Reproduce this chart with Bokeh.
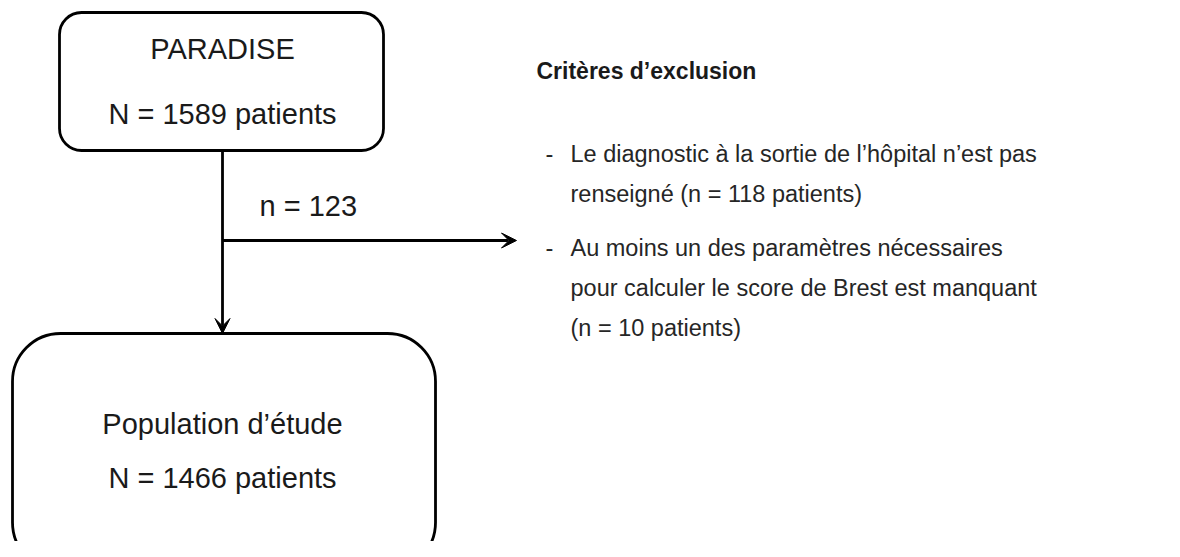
from bokeh.plotting import figure
from bokeh.models import Range1d, Arrow, VeeHead, ColumnDataSource
from bokeh.core.properties import value
from bokeh.embed import file_html
from bokeh.resources import INLINE

# ---- data ----
box_names = ["PARADISE", "Population d\u2019étude"]
box_counts = ["N = 1589 patients", "N = 1466 patients"]
excluded_label = "n = 123"
criteria_title = "Critères d\u2019exclusion"
criteria_lines = [
    "Le diagnostic à la sortie de l\u2019hôpital n\u2019est pas",
    "renseigné (n = 118 patients)",
    "Au moins un des paramètres nécessaires",
    "pour calculer le score de Brest est manquant",
    "(n = 10 patients)",
]
bullet_flags = [True, False, True, False, False]

# ---- layout (image pixel coordinates) ----
W, H = 1164, 541
p = figure(width=W, height=H, output_backend="svg", toolbar_location=None,
           x_range=Range1d(0, W), y_range=Range1d(H, 0),
           min_border=0, outline_line_color=None)
p.axis.visible = False
p.grid.visible = False
p.background_fill_color = "white"
p.border_fill_color = "white"

FONT = value("Liberation Sans")
TXT = "#1a1a1a"

# boxes: left, right, top, bottom
box_l = [59, 12]
box_r = [383, 435]
box_t = [12, 333]
box_b = [150, 570]
radii = [22, 48]
for i in range(2):
    p.quad(left=[box_l[i]], right=[box_r[i]], top=[box_t[i]], bottom=[box_b[i]],
           fill_color="white", line_color="black", line_width=2.8,
           border_radius=radii[i])

cx = 222
# box texts
p.text(x=[cx, cx], y=[48, 113], text=[box_names[0], box_counts[0]],
       text_align="center", text_baseline="middle", text_font=FONT,
       text_font_size="29px", text_color=TXT)
p.text(x=[cx, cx], y=[423, 477], text=[box_names[1], box_counts[1]],
       text_align="center", text_baseline="middle", text_font=FONT,
       text_font_size="29px", text_color=TXT)

# arrows
p.add_layout(Arrow(x_start=cx, y_start=150, x_end=cx, y_end=333,
                   line_width=2.8, line_color="black",
                   end=VeeHead(size=15, fill_color="black", line_color="black", line_width=1)))
p.add_layout(Arrow(x_start=cx, y_start=240, x_end=516, y_end=240,
                   line_width=2.8, line_color="black",
                   end=VeeHead(size=15, fill_color="black", line_color="black", line_width=1)))

p.text(x=[259], y=[205], text=[excluded_label], text_align="left",
       text_baseline="middle", text_font=FONT, text_font_size="29px",
       text_color=TXT)

# criteria
p.text(x=[536], y=[70], text=[criteria_title], text_align="left",
       text_baseline="middle", text_font=FONT, text_font_size="23px",
       text_font_style="bold", text_color=TXT)
ys = [153, 193, 247, 287, 327]
src = ColumnDataSource(dict(x=[570] * 5, y=ys, t=criteria_lines))
p.text(x="x", y="y", text="t", source=src, text_align="left",
       text_baseline="middle", text_font=FONT, text_font_size="23.5px",
       text_color="#262626")
by = [y for y, f in zip(ys, bullet_flags) if f]
p.text(x=[545] * len(by), y=by, text=["-"] * len(by), text_align="left",
       text_baseline="middle", text_font=FONT, text_font_size="23.5px",
       text_color="#262626")

open("out.html", "w").write(file_html(p, INLINE))
